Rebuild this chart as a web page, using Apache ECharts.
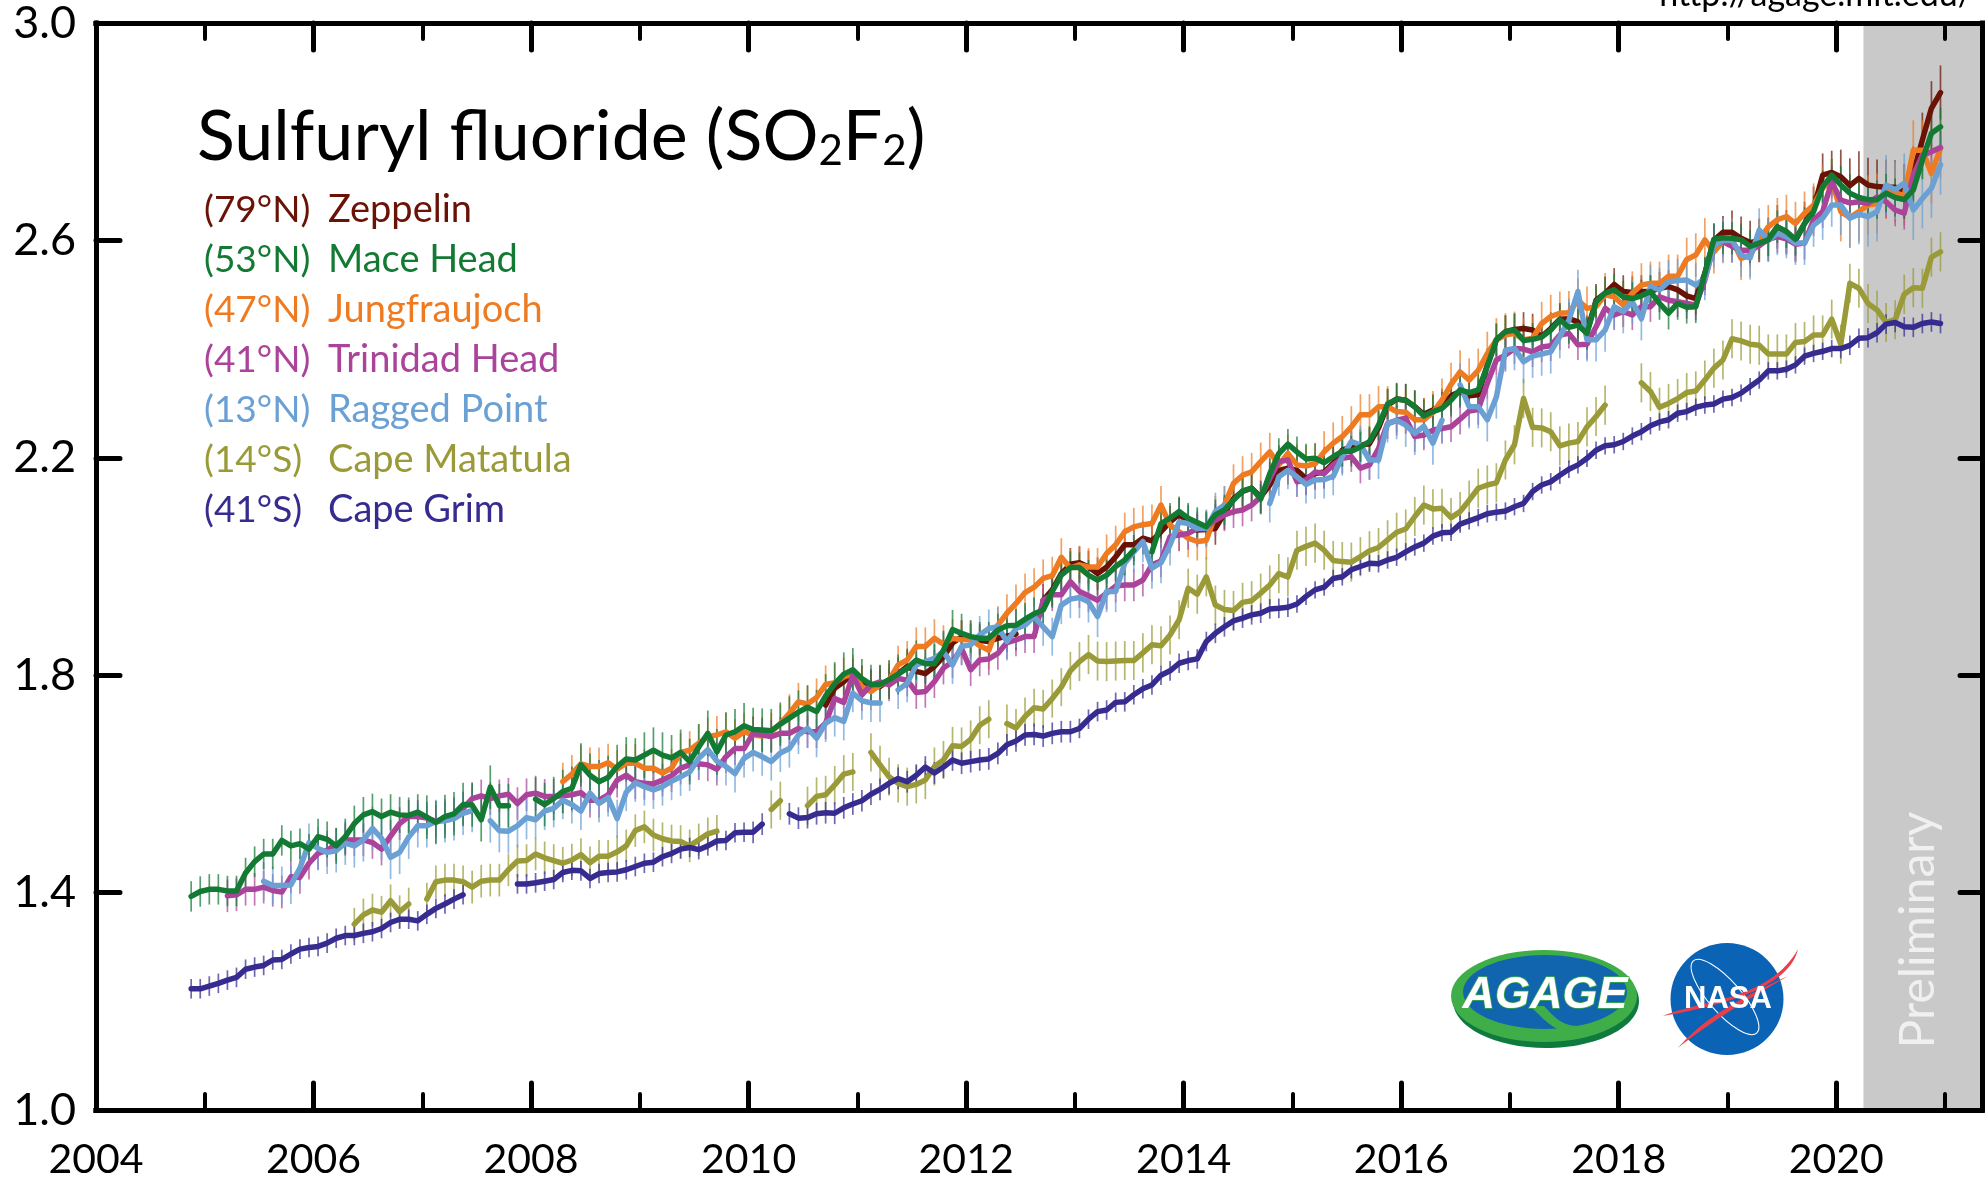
<!DOCTYPE html>
<html>
<head>
<meta charset="utf-8">
<title>Sulfuryl fluoride (SO2F2)</title>
<script src="https://cdn.jsdelivr.net/npm/echarts@6/dist/echarts.min.js"></script>
<style>
  html, body { margin: 0; padding: 0; background: #fff; }
  #chart { width: 1986px; height: 1180px; }
</style>
</head>
<body>
<div id="chart"></div>
<script>
const _ = null;

// monthly means in ppt, first value is Nov 2004, ten values per row
const zeppelin = [
  _,_,_,_,_,_,_,_,_,_,
  _,_,_,_,_,_,_,_,_,_,
  _,_,_,_,_,_,_,_,_,_,
  _,_,_,_,_,_,_,_,_,_,
  _,_,_,_,_,_,_,_,_,_,
  _,_,_,_,_,_,_,_,_,_,
  _,_,_,_,_,_,_,_,_,_,
  1.745,1.776,1.788,1.803,1.788,1.779,1.779,1.791,1.803,1.816,
  1.807,1.803,1.816,1.834,1.859,1.871,1.865,1.864,1.862,1.868,
  1.872,1.876,_,_,1.938,1.957,1.987,2.004,2.007,1.999,
  1.987,1.999,2.018,2.040,2.040,2.052,2.047,2.064,2.082,2.096,
  2.082,2.067,2.068,2.070,2.098,2.125,2.138,2.144,2.128,2.150,
  2.177,2.181,2.177,2.162,2.171,2.174,2.190,2.214,2.220,2.223,
  2.226,2.255,2.297,2.308,2.306,2.294,2.280,2.288,2.297,2.314,
  2.322,2.314,2.316,2.371,2.417,2.432,2.436,2.438,2.435,2.423,
  2.438,2.455,2.456,2.450,2.432,2.490,2.503,2.519,2.506,2.504,
  2.506,2.506,2.512,2.515,2.509,2.498,2.493,2.539,2.600,2.615,
  2.615,2.604,2.596,2.600,2.602,2.625,2.616,2.600,2.631,2.659,
  2.720,2.725,2.717,2.701,2.714,2.702,2.699,2.698,2.698,2.690,
  2.723,2.785,2.843,2.872
];
const maceHead = [
  1.393,1.402,1.406,1.406,1.403,1.403,1.436,1.457,1.471,1.471,
  1.496,1.486,1.490,1.480,1.503,1.498,1.486,1.503,1.527,1.543,
  1.549,1.540,1.548,1.543,1.542,1.548,1.539,1.529,1.540,1.545,
  1.562,1.561,1.534,1.594,1.560,1.560,_,_,1.572,1.562,
  1.573,1.586,1.592,1.635,1.616,1.604,1.612,1.632,1.646,1.644,
  1.653,1.662,1.653,1.648,1.658,1.641,1.668,1.693,1.659,1.690,
  1.696,1.707,1.700,1.699,1.698,1.710,1.721,1.732,1.741,1.733,
  1.762,1.784,1.802,1.810,1.794,1.783,1.783,1.792,1.802,1.813,
  1.828,1.821,1.821,1.846,1.884,1.877,1.871,1.868,1.868,1.883,
  1.891,1.892,1.903,1.913,1.920,1.954,1.984,1.998,1.998,1.984,
  1.975,1.984,2.000,2.012,2.030,_,2.027,2.079,2.089,2.101,
  2.089,2.081,2.073,2.095,2.104,2.122,2.139,2.144,2.124,2.171,
  2.208,2.225,2.211,2.198,2.199,2.191,2.202,2.212,2.212,2.220,
  2.230,2.260,2.299,2.308,2.306,2.294,2.277,2.285,2.291,2.306,
  2.325,2.320,2.325,2.368,2.417,2.432,2.435,2.416,2.418,2.422,
  2.435,2.454,2.440,2.444,2.429,2.487,2.503,2.509,2.496,2.493,
  2.498,2.506,2.484,2.466,2.484,2.477,2.478,2.539,2.602,2.605,
  2.604,2.601,2.589,2.595,2.601,2.625,2.616,2.602,2.631,2.653,
  2.699,2.720,2.702,2.687,2.679,2.675,2.675,2.687,2.679,2.675,
  2.693,2.748,2.797,2.809
];
const jungfraujoch = [
  _,_,_,_,_,_,_,_,_,_,
  _,_,_,_,_,_,_,_,_,_,
  _,_,_,_,_,_,_,_,_,_,
  _,_,_,_,_,_,_,_,_,_,
  _,1.604,1.618,1.637,1.632,1.632,1.639,1.627,1.638,1.638,
  1.629,1.629,1.620,1.629,1.658,1.662,1.675,1.687,1.690,1.696,
  1.684,1.696,1.690,1.688,1.696,1.711,1.730,1.751,1.747,1.759,
  1.783,1.786,1.797,1.803,1.779,1.770,1.782,1.791,1.819,1.828,
  1.853,1.853,1.868,1.857,1.868,1.865,1.866,1.854,1.846,1.892,
  1.914,1.932,1.952,1.962,1.978,1.983,2.017,1.997,2.003,1.999,
  1.999,2.024,2.040,2.064,2.073,2.077,2.079,2.113,2.076,2.064,
  2.052,2.046,2.048,2.095,2.113,2.153,2.168,2.174,2.193,2.211,
  2.187,2.208,2.187,2.185,2.189,2.211,2.227,2.239,2.257,2.279,
  2.279,2.294,2.294,2.285,2.284,2.270,2.270,2.283,2.306,2.335,
  2.358,2.343,2.361,2.392,2.417,2.426,2.429,2.417,2.420,2.447,
  2.460,2.466,2.467,2.490,2.475,2.478,2.500,2.496,2.481,2.503,
  2.518,2.521,2.521,2.534,2.534,2.565,2.573,2.601,2.579,2.598,
  2.601,2.567,2.573,2.600,2.625,2.638,2.644,2.631,2.650,2.665,
  2.696,2.711,2.653,2.642,2.653,2.665,2.668,2.694,2.688,2.682,
  2.766,2.766,2.723,2.769
];
const trinidadHead = [
  _,_,_,_,1.394,1.396,1.406,1.406,1.410,1.404,
  1.401,1.429,1.428,1.454,1.472,1.478,1.489,1.497,1.497,1.497,
  1.492,1.480,1.504,1.527,1.540,1.540,1.537,1.531,1.537,1.543,
  1.555,1.573,1.578,1.573,1.578,1.581,1.564,1.580,1.583,1.577,
  1.577,1.578,1.580,1.584,1.570,1.570,1.580,1.607,1.616,1.604,
  1.601,1.600,1.607,1.615,1.629,1.635,1.637,1.635,1.627,1.650,
  1.665,1.665,1.693,1.690,1.687,1.693,1.693,1.702,1.696,1.696,
  1.712,1.757,1.750,1.800,1.764,1.782,1.788,1.782,1.794,1.791,
  1.768,1.770,1.788,1.813,1.825,1.849,1.810,1.828,1.830,1.840,
  1.860,1.865,1.871,1.871,1.938,1.948,1.948,1.972,1.954,1.946,
  1.938,1.951,1.964,1.966,1.966,1.975,2.003,2.010,2.055,2.058,
  2.061,2.070,2.073,2.085,2.095,2.101,2.104,2.113,2.128,2.162,
  2.193,2.196,2.156,2.159,2.174,2.171,2.187,2.199,2.202,2.181,
  2.187,2.217,2.263,2.269,2.273,2.239,2.242,2.251,2.254,2.257,
  2.271,2.286,2.289,2.337,2.380,2.389,2.401,2.400,2.395,2.404,
  2.406,2.426,2.429,2.408,2.409,2.441,2.475,2.463,2.469,2.463,
  2.478,2.478,2.496,2.490,2.487,2.484,2.481,2.527,2.591,2.598,
  2.589,2.582,2.582,2.590,2.602,2.607,2.603,2.593,2.595,2.638,
  2.653,2.708,2.674,2.669,2.671,2.668,2.680,2.671,2.656,2.650,
  2.720,2.757,2.763,2.771
];
const raggedPoint = [
  _,_,_,_,_,_,_,_,1.421,1.413,
  1.413,1.414,1.445,1.492,1.481,1.474,1.477,1.491,1.486,1.497,
  1.518,1.500,1.465,1.474,1.502,1.523,1.523,1.531,1.532,1.536,
  1.546,1.551,_,1.532,1.514,1.513,1.523,1.538,1.534,1.550,
  1.555,1.570,1.562,1.550,1.583,1.564,1.575,1.536,1.585,1.602,
  1.595,1.589,1.595,1.605,1.613,1.622,1.647,1.663,1.642,1.632,
  1.619,1.647,1.658,1.650,1.641,1.657,1.665,1.690,1.702,1.684,
  1.712,1.722,1.715,1.767,1.753,1.749,1.749,_,1.773,1.785,
  1.819,1.825,1.831,1.843,1.819,1.853,1.856,1.874,1.886,1.889,
  1.862,1.886,1.892,1.908,1.889,1.871,1.929,1.940,1.943,1.935,
  1.908,1.954,1.954,2.006,2.027,2.046,1.997,2.007,2.040,2.082,
  2.079,2.070,2.070,2.101,2.113,_,_,_,_,2.116,
  2.165,2.177,2.165,2.151,2.159,2.160,2.166,2.202,2.230,2.224,
  2.196,2.196,2.263,2.269,2.260,2.245,2.258,2.227,2.269,_,
  2.334,2.294,2.294,2.270,2.312,2.398,2.401,2.377,2.387,2.391,
  2.395,2.423,2.453,2.506,2.417,2.417,2.435,2.478,2.469,2.487,
  2.456,2.515,2.509,2.524,2.526,2.527,2.518,2.530,2.590,2.600,
  2.600,2.573,2.568,2.619,2.600,2.613,2.607,2.595,2.595,2.628,
  2.641,2.665,2.665,2.641,2.648,2.644,2.653,2.702,2.693,2.705,
  2.656,2.677,2.696,2.739
];
const capeMatatula = [
  _,_,_,_,_,_,_,_,_,_,
  _,_,_,_,_,_,_,_,1.342,1.359,
  1.368,1.364,1.385,1.365,1.379,_,1.388,1.420,1.423,1.423,
  1.420,1.410,1.421,1.423,1.423,1.442,1.458,1.459,1.471,1.464,
  1.459,1.454,1.460,1.470,1.455,1.467,1.467,1.475,1.486,1.514,
  1.521,1.506,1.499,1.495,1.494,1.486,1.497,1.508,1.513,_,
  _,_,_,_,1.553,1.569,_,_,1.560,1.577,
  1.580,1.598,1.618,1.622,_,1.658,1.635,1.613,1.601,1.595,
  1.599,1.607,1.632,1.644,1.670,1.669,1.682,1.708,1.719,_,
  1.711,1.703,1.724,1.740,1.738,1.757,1.778,1.808,1.825,1.838,
  1.826,1.825,1.826,1.827,1.827,1.841,1.856,1.854,1.874,1.902,
  1.960,1.949,1.981,1.929,1.921,1.919,1.934,1.937,1.951,1.966,
  1.987,1.981,2.030,2.037,2.043,2.030,2.011,2.009,2.008,2.018,
  2.029,2.035,2.049,2.063,2.069,2.092,2.113,2.106,2.107,2.090,
  2.101,2.122,2.144,2.150,2.154,2.196,2.224,2.309,2.256,2.255,
  2.248,2.222,2.227,2.230,2.257,2.276,2.297,_,_,_,
  2.338,2.322,2.293,2.300,2.309,2.320,2.323,2.343,2.365,2.380,
  2.419,2.415,2.409,2.407,2.391,2.391,2.391,2.412,2.414,2.426,
  2.426,2.455,2.409,2.521,2.512,2.484,2.472,2.449,2.454,2.501,
  2.513,2.512,2.569,2.579
];
const capeGrim = [
  1.223,1.223,1.228,1.233,1.239,1.244,1.259,1.263,1.266,1.276,
  1.277,1.287,1.296,1.299,1.301,1.307,1.316,1.321,1.321,1.325,
  1.328,1.334,1.345,1.351,1.351,1.348,1.360,1.371,1.379,1.388,
  1.396,_,_,_,_,_,1.416,1.416,1.418,1.421,
  1.424,1.437,1.441,1.440,1.426,1.435,1.437,1.438,1.442,1.448,
  1.454,1.456,1.466,1.472,1.480,1.483,1.479,1.486,1.495,1.496,
  1.510,1.511,1.511,1.526,_,_,1.545,1.537,1.538,1.545,
  1.547,1.546,1.556,1.563,1.569,1.581,1.590,1.601,1.610,1.604,
  1.616,1.631,1.620,1.631,1.644,1.638,1.641,1.644,1.646,1.656,
  1.672,1.679,1.690,1.691,1.688,1.693,1.696,1.696,1.702,1.719,
  1.733,1.736,1.750,1.751,1.764,1.775,1.782,1.800,1.808,1.822,
  1.827,1.830,1.862,1.877,1.889,1.900,1.905,1.911,1.914,1.922,
  1.923,1.925,1.931,1.945,1.957,1.962,1.978,1.981,1.994,2.000,
  2.006,2.005,2.012,2.017,2.027,2.036,2.043,2.056,2.062,2.063,
  2.078,2.084,2.090,2.097,2.100,2.102,2.110,2.116,2.138,2.150,
  2.156,2.168,2.179,2.187,2.199,2.214,2.222,2.224,2.230,2.240,
  2.248,2.259,2.266,2.270,2.282,2.285,2.293,2.297,2.299,2.308,
  2.311,2.319,2.331,2.343,2.360,2.360,2.363,2.371,2.387,2.392,
  2.396,2.401,2.401,2.407,2.420,2.421,2.430,2.446,2.449,2.441,
  2.440,2.447,2.450,2.447
];

// half length of the whiskers, read roughly per year, 2004 to 2020
const errZeppelin = [0,0,0,0,0,0,0,0.03,0.03,0.03,0.03,0.03,0.03,0.03,0.03,0.04,0.05];
const errMaceHead = [0.028,0.028,0.033,0.04,0.04,0.042,0.04,0.036,0.03,0.028,0.028,0.028,0.03,0.03,0.03,0.03,0.035];
const errJungfraujoch = [0,0,0,0,0.035,0.035,0.035,0.035,0.035,0.035,0.035,0.038,0.04,0.04,0.04,0.04,0.055];
const errTrinidadHead = [0.03,0.03,0.03,0.03,0.032,0.03,0.03,0.03,0.03,0.03,0.03,0.028,0.028,0.028,0.028,0.03,0.03];
const errRaggedPoint = [0.035,0.035,0.04,0.04,0.035,0.035,0.035,0.035,0.035,0.038,0.035,0.035,0.04,0.04,0.04,0.04,0.055];
const errCapeMatatula = [0,0.03,0.03,0.03,0.03,0.03,0.035,0.035,0.035,0.036,0.036,0.036,0.036,0.036,0.036,0.036,0.036];
const errCapeGrim = [0.018,0.018,0.018,0.018,0.018,0.018,0.02,0.02,0.02,0.018,0.018,0.016,0.016,0.016,0.016,0.016,0.018];

const stationNames = ['Zeppelin', 'Mace Head', 'Jungfraujoch', 'Trinidad Head', 'Ragged Point', 'Cape Matatula', 'Cape Grim'];
const stationLats = ['(79°N)', '(53°N)', '(47°N)', '(41°N)', '(13°N)', '(14°S)', '(41°S)'];
const stationColors = ['#6a1205', '#137a34', '#ee7b22', '#ab439b', '#6aa0d4', '#9a9b38', '#362b8f'];

const xMajorTicks = [2004, 2006, 2008, 2010, 2012, 2014, 2016, 2018, 2020];
const xMinorTicks = [2005, 2007, 2009, 2011, 2013, 2015, 2017, 2019, 2021];
const yTicks = [1.0, 1.4, 1.8, 2.2, 2.6, 3.0];
const yInnerTicks = [1.4, 1.8, 2.2, 2.6];
const preliminaryFrom = 2020.25;

const xMin = 2004, xMax = 2021.34;
const labelFont = 'Lato';
const monthX = capeGrim.map((v, i) => 2004 + (10.5 + i) / 12);

// draw order of the reference, last one on top
const drawOrder = [
  [zeppelin, errZeppelin, 0],
  [jungfraujoch, errJungfraujoch, 2],
  [trinidadHead, errTrinidadHead, 3],
  [raggedPoint, errRaggedPoint, 4],
  [maceHead, errMaceHead, 1],
  [capeMatatula, errCapeMatatula, 5],
  [capeGrim, errCapeGrim, 6]
];

function whiskerSeries(values, errs, color) {
  const data = [];
  values.forEach((v, i) => {
    if (v === null) return;
    const e = errs[Math.floor(monthX[i]) - 2004];
    data.push([monthX[i], v - e, v + e]);
  });
  return {
    type: 'custom',
    clip: true,
    silent: true,
    data: data,
    encode: { x: 0, y: [1, 2] },
    renderItem: function (params, api) {
      const lo = api.coord([api.value(0), api.value(1)]);
      const hi = api.coord([api.value(0), api.value(2)]);
      return {
        type: 'line',
        shape: { x1: lo[0], y1: lo[1], x2: hi[0], y2: hi[1] },
        style: { stroke: color, lineWidth: 1.7, opacity: 0.72 }
      };
    }
  };
}

const series = [{
  // grey block for the preliminary data
  type: 'custom',
  clip: true,
  silent: true,
  z: 1,
  data: [[preliminaryFrom, 1.0, xMax, 3.0]],
  encode: { x: [0, 2], y: [1, 3] },
  renderItem: function (params, api) {
    const a = api.coord([api.value(0), api.value(3)]);
    const b = api.coord([api.value(2), api.value(1)]);
    return { type: 'rect', shape: { x: a[0], y: a[1], width: b[0] - a[0], height: b[1] - a[1] }, style: { fill: '#c9c9c9' } };
  }
}];

drawOrder.forEach(function (row) {
  const color = stationColors[row[2]];
  series.push(whiskerSeries(row[0], row[1], color));
  series.push({
    name: stationNames[row[2]],
    type: 'line',
    showSymbol: false,
    symbol: 'none',
    silent: true,
    connectNulls: false,
    data: row[0].map((v, i) => [monthX[i], v]),
    lineStyle: { color: color, width: 5.5, cap: 'round', join: 'round' }
  });
});

function xAxisOf(position, ticks, length, width, withLabels) {
  return {
    type: 'value',
    position: position,
    min: xMin,
    max: xMax,
    z: 10,
    splitLine: { show: false },
    axisLine: { show: true, onZero: false, lineStyle: { color: '#000', width: 5, cap: 'square' } },
    axisTick: { show: true, inside: true, length: length, customValues: ticks, lineStyle: { color: '#000', width: width, cap: 'round' } },
    axisLabel: { show: withLabels, customValues: xMajorTicks, margin: 29, color: '#000', fontFamily: labelFont, fontSize: 41, formatter: v => String(v), hideOverlap: false, showMinLabel: true, showMaxLabel: true }
  };
}
function yAxisOf(position, ticks, labels, length) {
  return {
    type: 'value',
    position: position,
    min: 1.0,
    max: 3.0,
    z: 10,
    splitLine: { show: false },
    axisLine: { show: true, onZero: false, lineStyle: { color: '#000', width: 5, cap: 'square' } },
    axisTick: { show: true, inside: true, length: length, customValues: ticks, lineStyle: { color: '#000', width: 5, cap: 'round' } },
    axisLabel: { show: labels, customValues: yTicks, margin: 20, color: '#000', fontFamily: labelFont, fontSize: 45, formatter: v => v.toFixed(1), showMinLabel: true, showMaxLabel: true }
  };
}

const legendTexts = [];
stationNames.forEach(function (name, i) {
  const y = 210 + i * 50;
  legendTexts.push({ type: 'text', z: 20, x: 204, y: y, style: { text: stationLats[i], fill: stationColors[i], fontFamily: labelFont, fontSize: 37, verticalAlign: 'middle' } });
  legendTexts.push({ type: 'text', z: 20, x: 328, y: y, style: { text: name, fill: stationColors[i], fontFamily: labelFont, fontSize: 38, verticalAlign: 'middle' } });
});

const pageTexts = [
  { type: 'text', z: 20, x: 197, y: 137, style: {
      text: 'Sulfuryl fluoride (SO{sub|2}F{sub|2})', fill: '#000', fontFamily: labelFont, fontSize: 70, verticalAlign: 'middle',
      rich: { sub: { fontSize: 42, fontFamily: labelFont, fill: '#000', verticalAlign: 'bottom', lineHeight: 70, padding: [30, 0, 0, 0] } }
  } },
  { type: 'text', z: 20, x: 1973, y: 12, style: { text: 'http://agage.mit.edu/', fill: '#000', fontFamily: labelFont, fontSize: 34, align: 'right', verticalAlign: 'bottom' } },
  { type: 'text', z: 20, x: 1919, y: 930, rotation: Math.PI / 2, style: { text: 'Preliminary', fill: '#f0f0f0', fontFamily: labelFont, fontSize: 48, align: 'center', verticalAlign: 'middle' } }
];

// logo shapes that need curves
echarts.graphic.registerShape('agageLeaf', echarts.graphic.extendPath('M1530 1006 C1545 1020 1555 1034 1580 1034 C1600 1034 1620 1022 1630 1008 L1626 1003 C1610 1020 1595 1026 1578 1026 C1560 1026 1552 1014 1544 1006 Z'));
echarts.graphic.registerShape('nasaWing', echarts.graphic.extendPath('M1663 1016 C1700 1000 1770 1000 1798 949 C1790 985 1732 1004 1663 1016 Z'));
echarts.graphic.registerShape('nasaWingLow', echarts.graphic.extendPath('M1678 1048 C1700 1022 1735 1000 1788 976 C1740 1004 1705 1026 1678 1048 Z'));

const logos = [
  // AGAGE
  { type: 'ellipse', z: 15, shape: { cx: 1546, cy: 1001, rx: 93, ry: 47 }, style: { fill: '#0e7a3e' } },
  { type: 'ellipse', z: 15, shape: { cx: 1544, cy: 996, rx: 93, ry: 46 }, style: { fill: '#3fae49' } },
  { type: 'ellipse', z: 15, shape: { cx: 1545, cy: 992, rx: 82, ry: 37 }, style: { fill: '#1165ae' } },
  { type: 'agageLeaf', z: 16, style: { fill: '#3fae49' } },
  { type: 'text', z: 17, x: 1545, y: 996, style: { text: 'AGAGE', fill: '#fff', stroke: '#3fae49', lineWidth: 1.5, fontFamily: 'Liberation Sans', fontWeight: 'bold', fontStyle: 'italic', fontSize: 45, align: 'center', verticalAlign: 'middle' } },
  // NASA
  { type: 'ellipse', z: 15, shape: { cx: 1727, cy: 999, rx: 56.5, ry: 56 }, style: { fill: '#0b63b5' } },
  { type: 'ellipse', z: 16, x: 1725, y: 997, rotation: 0.72, shape: { cx: 0, cy: 0, rx: 16, ry: 48 }, style: { fill: 'none', stroke: '#fff', lineWidth: 1 } },
  { type: 'nasaWing', z: 16, style: { fill: '#e93f4c' } },
  { type: 'nasaWingLow', z: 16, style: { fill: '#e93f4c' } },
  { type: 'text', z: 17, x: 1728, y: 999, style: { text: 'NASA', fill: '#fff', fontFamily: 'Liberation Sans', fontWeight: 'bold', fontSize: 31, align: 'center', verticalAlign: 'middle' } }
];

const chart = echarts.init(document.getElementById('chart'), null, { renderer: 'canvas' });
chart.setOption({
  animation: false,
  backgroundColor: '#fff',
  grid: { left: 96, top: 23, width: 1886, height: 1087, containLabel: false, outerBoundsMode: 'none' },
  xAxis: [
    xAxisOf('bottom', xMajorTicks, 27, 5, true),
    xAxisOf('bottom', xMinorTicks, 16, 4, false),
    xAxisOf('top', xMajorTicks, 27, 5, false),
    xAxisOf('top', xMinorTicks, 16, 4, false)
  ],
  yAxis: [
    yAxisOf('left', yInnerTicks, true, 24),
    yAxisOf('right', yInnerTicks, false, 22)
  ],
  series: series,
  graphic: { elements: legendTexts.concat(pageTexts, logos) }
});
</script>
</body>
</html>
